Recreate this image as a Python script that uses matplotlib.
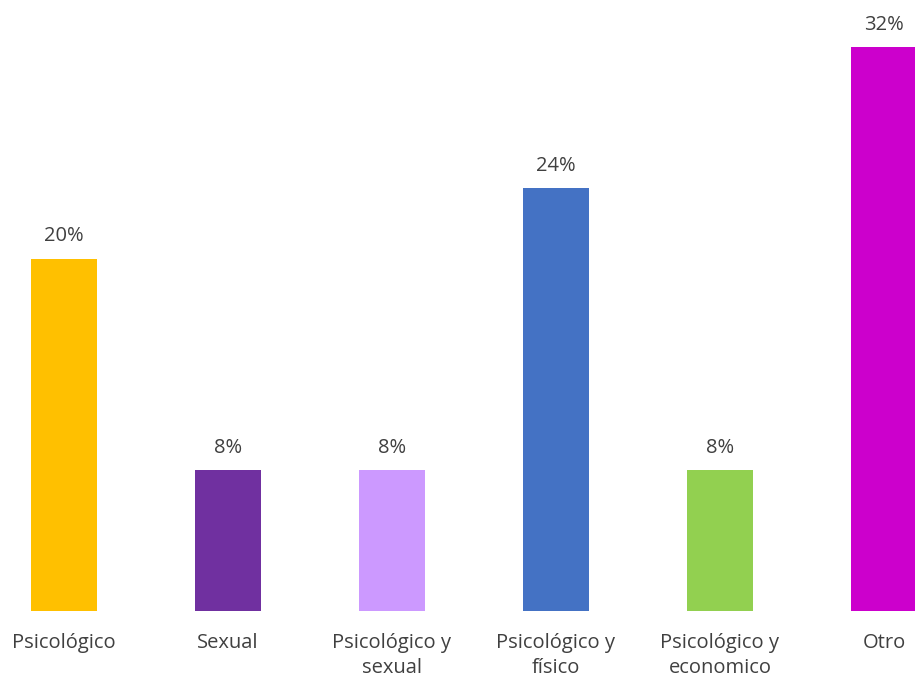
import matplotlib
matplotlib.use("Agg")
import matplotlib.pyplot as plt

categories = ["Psicológico", "Sexual", "Psicológico y\nsexual", "Psicológico y\nfísico", "Psicológico y\neconomico", "Otro"]
values = [20, 8, 8, 24, 8, 32]
labels = ["20%", "8%", "8%", "24%", "8%", "32%"]
colors = ["#FFC000", "#7030A0", "#CC99FF", "#4472C4", "#92D050", "#CC00CC"]

W, H = 915, 679
fig = plt.figure(figsize=(W/100, H/100), dpi=100)
ax = fig.add_axes([0, 68/H, 1, (H-68)/H])
x = list(range(len(categories)))
ax.bar(x, values, width=66/164, color=colors)
ax.set_xlim((0-64)/164, (915-64)/164)
ax.set_ylim(0, (H-68)*32/564)
txt = "#404040"
for xi, v, l in zip(x, values, labels):
    ax.text(xi, v + 0.7, l, ha="center", va="bottom", fontsize=14.5, color=txt, family="Open Sans")
ax.set_xticks(x)
ax.set_xticklabels(categories, fontsize=14.5, color=txt, family="Open Sans", linespacing=1.3)
ax.tick_params(axis="x", length=0, pad=16)
ax.set_yticks([])
for s in ax.spines.values():
    s.set_visible(False)
fig.savefig("out.png", dpi=100)
